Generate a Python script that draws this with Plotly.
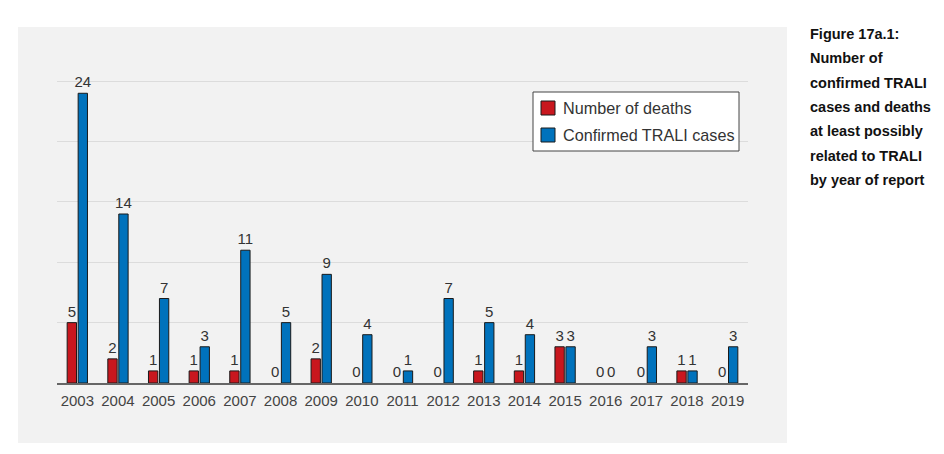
import plotly.graph_objects as go

years = ["2003", "2004", "2005", "2006", "2007", "2008", "2009", "2010", "2011",
         "2012", "2013", "2014", "2015", "2016", "2017", "2018", "2019"]
deaths = [5, 2, 1, 1, 1, 0, 2, 0, 0, 0, 1, 1, 3, 0, 0, 1, 0]
cases = [24, 14, 7, 3, 11, 5, 9, 4, 1, 7, 5, 4, 3, 0, 3, 1, 3]
series_names = ["Number of deaths", "Confirmed TRALI cases"]
series_colors = ["#C8171E", "#0072BC"]
caption_lines = ["Figure 17a.1:", "Number of", "confirmed TRALI", "cases and deaths",
                 "at least possibly", "related to TRALI", "by year of report"]

# page body has an 8px margin: work in screen pixels and subtract it
OFF = 8
W, H = 944 - OFF, 454 - OFF
FONT = "Liberation Sans, Arial, sans-serif"

ml, mt, mr, mb = 57 - OFF, 81 - OFF - 1, W - (748 - OFF), H - (383 - OFF)
pw, ph = W - ml - mr, H - mt - mb


def px(x):
    return (x - OFF - ml) / pw


def py(y):
    return 1 - (y - OFF - mt) / ph


fig = go.Figure()
for name, vals, col in zip(series_names, [deaths, cases], series_colors):
    fig.add_trace(go.Bar(x=years, y=vals, name=name,
                         marker=dict(color=col,
                                     line=dict(color="#1a1a1a",
                                               width=[1 if v > 0 else 0 for v in vals])),
                         text=[str(v) for v in vals], textposition="outside",
                         textfont=dict(size=15, color="#333333", family=FONT),
                         cliponaxis=False, showlegend=False))

fig.update_layout(
    width=W, height=H,
    margin=dict(l=ml, r=mr, t=mt, b=mb, pad=0),
    paper_bgcolor="white", plot_bgcolor="#F2F2F2",
    barmode="group", bargap=0.46, bargroupgap=0.15,
    font=dict(family=FONT, color="#333333"),
    uniformtext=dict(minsize=15, mode="show"),
)
fig.update_xaxes(showgrid=False, showline=True, linecolor="#666666", linewidth=2,
                 ticks="", ticklabelstandoff=3,
                 tickfont=dict(size=15, color="#444444", family=FONT))
fig.update_yaxes(range=[0, 25.1], dtick=5, showticklabels=False, showgrid=True,
                 gridcolor="#DCDCDC", gridwidth=1, zeroline=False, showline=False, ticks="")

# gray panel behind plot area
fig.add_shape(type="rect", xref="paper", yref="paper", layer="below",
              x0=px(18), x1=px(787), y0=py(443), y1=py(27),
              fillcolor="#F2F2F2", line=dict(width=0))

# legend box
fig.add_shape(type="rect", xref="paper", yref="paper",
              x0=px(533), x1=px(739), y0=py(151), y1=py(92),
              fillcolor="white", line=dict(color="#444444", width=1))
for i, (name, col) in enumerate(zip(series_names, series_colors)):
    yc = 108 + i * 27
    fig.add_shape(type="rect", xref="paper", yref="paper",
                  x0=px(541), x1=px(555), y0=py(yc + 7), y1=py(yc - 7),
                  fillcolor=col, line=dict(color="#1a1a1a", width=1))
    fig.add_annotation(xref="paper", yref="paper", x=px(561), y=py(yc),
                       xanchor="left", yanchor="middle", showarrow=False,
                       text=name, font=dict(size=16.2, color="#333333", family=FONT))

for i, line in enumerate(caption_lines):
    fig.add_annotation(xref="paper", yref="paper",
                       x=px(808), y=py(34 + i * 24.3),
                       xanchor="left", yanchor="middle", showarrow=False,
                       text="<b>" + line + "</b>",
                       font=dict(size=14.5, color="#111111", family=FONT))

fig.write_html("out.html")
